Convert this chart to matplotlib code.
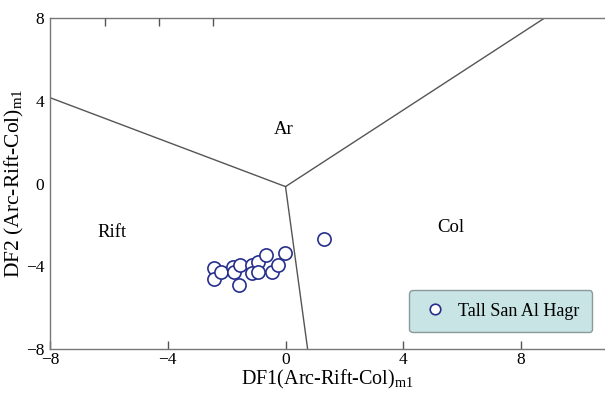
import matplotlib.pyplot as plt

plt.rcParams['font.family'] = ['Liberation Serif', 'DejaVu Serif']
plt.rcParams['mathtext.fontset'] = 'custom'
plt.rcParams['mathtext.rm'] = 'Liberation Serif'

# sample scores
df1 = [-2.44, -2.44, -2.20, -1.80, -1.76, -1.56, -1.59, -1.15, -1.15,
       -0.92, -0.68, -0.92, -0.47, -0.27, -0.03, 1.29]
df2 = [-4.08, -4.61, -4.28, -4.03, -4.28, -3.94, -4.90, -3.94, -4.32,
       -3.79, -3.45, -4.28, -4.28, -3.94, -3.36, -2.68]

# field boundaries: common junction and the three outer ends
junction = (0.0, -0.15)
ends = [(-8.0, 4.15), (8.8, 8.0), (0.75, -8.0)]

fields = ["Ar", "Rift", "Col"]
field_pos = [(-0.05, 2.6), (-5.9, -2.35), (5.6, -2.15)]

fig = plt.figure(figsize=(6.05, 3.96), dpi=100)
ax = fig.add_axes([0.0826, 0.1187, 0.9174, 0.8358])

for ex, ey in ends:
    ax.plot([junction[0], ex], [junction[1], ey], color='#555555', lw=1.0)

for name, (tx, ty) in zip(fields, field_pos):
    ax.text(tx, ty, name, ha='center', va='center', fontsize=13.5)

ax.plot(df1, df2, 'o', ms=9.5, mfc='white', mec='#26308c', mew=1.2,
        ls='none', label='Tall San Al Hagr')

ax.set_xlim(-8, 10.85)
ax.set_ylim(-8, 8)
ax.set_xticks([-8, -4, 0, 4, 8])
ax.set_yticks([-8, -4, 0, 4, 8])
ax.set_xticklabels(['\u22128', '\u22124', '0', '4', '8'])
ax.set_yticklabels(['\u22128', '\u22124', '0', '4', '8'])
ax.tick_params(direction='in', width=1.0, color='#555555',
               labelsize=12.5, pad=2)
ax.tick_params(axis='x', length=6)
ax.tick_params(axis='y', length=0, pad=4)

# stray ticks along the top edge, on a twin axis
top = ax.twiny()
top.set_xlim(ax.get_xlim())
top.set_xticks([-6.14, -4.3, -2.47])
top.tick_params(axis='x', direction='in', length=6, width=1.0,
                color='#555555', labeltop=False, top=True)
top.set_frame_on(False)

for side in ['left', 'bottom', 'top']:
    ax.spines[side].set_color('#777777')
    ax.spines[side].set_linewidth(1.0)
ax.spines['right'].set_visible(False)

ax.set_xlabel('DF1(Arc-Rift-Col)$_{\\mathrm{m1}}$', fontsize=14.5, labelpad=0)
ax.set_ylabel('DF2 (Arc-Rift-Col)$_{\\mathrm{m1}}$', fontsize=15.5, labelpad=0)

leg = ax.legend(loc='lower right', bbox_to_anchor=(0.977, 0.05),
                borderaxespad=0, fontsize=13, fancybox=True, framealpha=1,
                facecolor='#c8e4e4', edgecolor='#8a9a9a', markerscale=0.8,
                handletextpad=0.6, borderpad=0.7, handlelength=1.4)

fig.savefig('out.png', dpi=100)
